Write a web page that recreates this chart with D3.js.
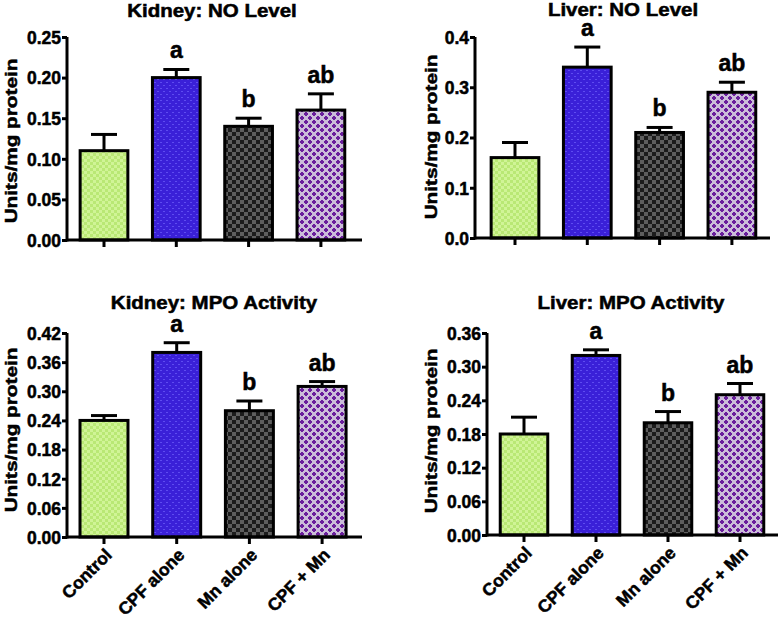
<!DOCTYPE html>
<html><head><meta charset="utf-8">
<script src="https://cdn.jsdelivr.net/npm/d3@7"></script>
<style>
html,body{margin:0;padding:0;background:#fff;}
text{font-family:"Liberation Sans",Arial,sans-serif;font-weight:bold;fill:#000;stroke:#000;stroke-width:0.5px;}
</style></head>
<body><svg id="c" width="781" height="620"></svg>
<script>
const groups = ["Control","CPF alone","Mn alone","CPF + Mn"];
const letters = ["","a","b","ab"];
const kidneyNO = [0.11,0.20,0.14,0.16];
const kidneyNOerr = [0.02,0.01,0.01,0.02];
const liverNO = [0.16,0.34,0.21,0.29];
const liverNOerr = [0.03,0.04,0.01,0.02];
const kidneyMPO = [0.24,0.38,0.26,0.31];
const kidneyMPOerr = [0.01,0.02,0.02,0.01];
const liverMPO = [0.18,0.32,0.20,0.25];
const liverMPOerr = [0.03,0.01,0.02,0.02];
const kidneyNOticks = [0,0.05,0.10,0.15,0.20,0.25];
const liverNOticks = [0,0.1,0.2,0.3,0.4];
const kidneyMPOticks = [0,0.06,0.12,0.18,0.24,0.30,0.36,0.42];
const liverMPOticks = [0,0.06,0.12,0.18,0.24,0.30,0.36];

const svg = d3.select("#c");
const defs = svg.append("defs");
let p = defs.append("pattern").attr("id","p0").attr("width",6).attr("height",6).attr("patternUnits","userSpaceOnUse");
p.append("rect").attr("width",6).attr("height",6).attr("fill","#d0f496");
p.append("rect").attr("width",3).attr("height",3).attr("fill","#b9e874");
p.append("rect").attr("x",3).attr("y",3).attr("width",3).attr("height",3).attr("fill","#b9e874");
p = defs.append("pattern").attr("id","p1").attr("width",6).attr("height",6).attr("patternUnits","userSpaceOnUse");
p.append("rect").attr("width",6).attr("height",6).attr("fill","#3a20d8");
p.append("rect").attr("x",1).attr("y",1).attr("width",2).attr("height",1).attr("fill","#5e4cf0");
p.append("rect").attr("x",4).attr("y",4).attr("width",2).attr("height",1).attr("fill","#5e4cf0");
p = defs.append("pattern").attr("id","p2").attr("width",8).attr("height",8).attr("patternUnits","userSpaceOnUse");
p.append("rect").attr("width",8).attr("height",8).attr("fill","#1c1c1c");
p.append("rect").attr("width",4).attr("height",4).attr("fill","#5e5e5e");
p.append("rect").attr("x",4).attr("y",4).attr("width",4).attr("height",4).attr("fill","#5e5e5e");
p = defs.append("pattern").attr("id","p3").attr("width",8).attr("height",8).attr("patternUnits","userSpaceOnUse");
p.append("rect").attr("width",8).attr("height",8).attr("fill","#cbbdd9");
[[2,2],[6,6]].forEach(([cx,cy])=>{
  p.append("rect").attr("x",cx-1).attr("y",cy-2).attr("width",2).attr("height",4).attr("fill","#6a1e9c");
  p.append("rect").attr("x",cx-2).attr("y",cy-1).attr("width",4).attr("height",2).attr("fill","#6a1e9c");
});
const fills = ["url(#p0)","url(#p1)","url(#p2)","url(#p3)"];

function stretch(sel, f){
  sel.each(function(){
    const len = this.getComputedTextLength();
    d3.select(this).attr("textLength", len*f).attr("lengthAdjust","spacingAndGlyphs");
  });
}

function panel(o){
  const g = svg.append("g");
  const y = d3.scaleLinear().domain([0,o.ymax]).range([o.y0,o.y1]);
  const xb = d3.scaleBand().domain(groups).range([o.c0-o.step/2, o.c0+o.step*3.5]).padding(0);
  const bw = o.step*0.66;
  const cx = d => xb(d)+xb.bandwidth()/2;
  g.selectAll("rect.bar").data(groups).join("rect")
    .attr("x",d=>cx(d)-bw/2).attr("y",(d,i)=>y(o.vals[i]))
    .attr("width",bw).attr("height",(d,i)=>y(0)-y(o.vals[i]))
    .attr("fill",(d,i)=>fills[i]).attr("stroke","#000").attr("stroke-width",3);
  groups.forEach((d,i)=>{
    const top = y(o.vals[i]+o.err[i]);
    g.append("line").attr("x1",cx(d)).attr("x2",cx(d)).attr("y1",y(o.vals[i])).attr("y2",top).attr("stroke","#000").attr("stroke-width",3);
    g.append("line").attr("x1",cx(d)-13).attr("x2",cx(d)+13).attr("y1",top).attr("y2",top).attr("stroke","#000").attr("stroke-width",3);
    if(letters[i]) g.append("text").attr("x",cx(d)).attr("y",top-11).attr("text-anchor","middle").attr("font-size",23).text(letters[i]);
  });
  const ya = g.append("g").attr("transform",`translate(${o.ax},0)`)
    .call(d3.axisLeft(y).tickValues(o.ticks).tickFormat(d3.format(o.fmt)).tickSize(5).tickSizeOuter(0).tickPadding(1));
  ya.select(".domain").attr("stroke-width",3).attr("d",`M0,${y(0)+1.5}V${o.y1}`);
  ya.selectAll(".tick line").attr("stroke-width",3);
  ya.selectAll(".tick text").attr("font-size",17.5).attr("dy","0.36em");
  g.append("line").attr("x1",o.ax).attr("x2",o.xend).attr("y1",y(0)).attr("y2",y(0)).attr("stroke","#000").attr("stroke-width",3);
  groups.forEach(d=>{
    g.append("line").attr("x1",cx(d)).attr("x2",cx(d)).attr("y1",y(0)).attr("y2",y(0)+7).attr("stroke","#000").attr("stroke-width",3);
  });
  if(o.xlabels){
    groups.forEach(d=>{
      g.append("text").attr("transform",`translate(${cx(d)+9},${y(0)+19}) rotate(-45)`)
        .attr("text-anchor","end").attr("font-size",17.5).text(d);
    });
  }
  const yl = g.append("text").attr("transform",`translate(${o.lx},${o.lc}) rotate(-90)`)
    .attr("text-anchor","middle").attr("font-size",17).text("Units/mg protein");
  stretch(yl, 1.22);
  const t = g.append("text").attr("x",o.tx).attr("y",o.ty).attr("text-anchor","middle").attr("font-size",17.5).text(o.title);
  stretch(t, 1.17);
}

panel({title:"Kidney: NO Level",vals:kidneyNO,err:kidneyNOerr,ticks:kidneyNOticks,fmt:".2f",ymax:0.25,y0:240,y1:37,ax:67,xend:362,c0:104,step:72.3,lx:17,lc:141,tx:212,ty:17});
panel({title:"Liver: NO Level",vals:liverNO,err:liverNOerr,ticks:liverNOticks,fmt:".1f",ymax:0.4,y0:238,y1:37,ax:475,xend:770,c0:515,step:72.3,lx:437,lc:137,tx:623,ty:16});
panel({title:"Kidney: MPO Activity",vals:kidneyMPO,err:kidneyMPOerr,ticks:kidneyMPOticks,fmt:".2f",ymax:0.42,y0:537,y1:333,ax:67,xend:362,c0:104,step:72.7,lx:17,lc:430,tx:214,ty:309,xlabels:true});
panel({title:"Liver: MPO Activity",vals:liverMPO,err:liverMPOerr,ticks:liverMPOticks,fmt:".2f",ymax:0.36,y0:535,y1:333,ax:487,xend:778,c0:524,step:72,lx:437,lc:431,tx:631,ty:309,xlabels:true});
</script></body></html>
